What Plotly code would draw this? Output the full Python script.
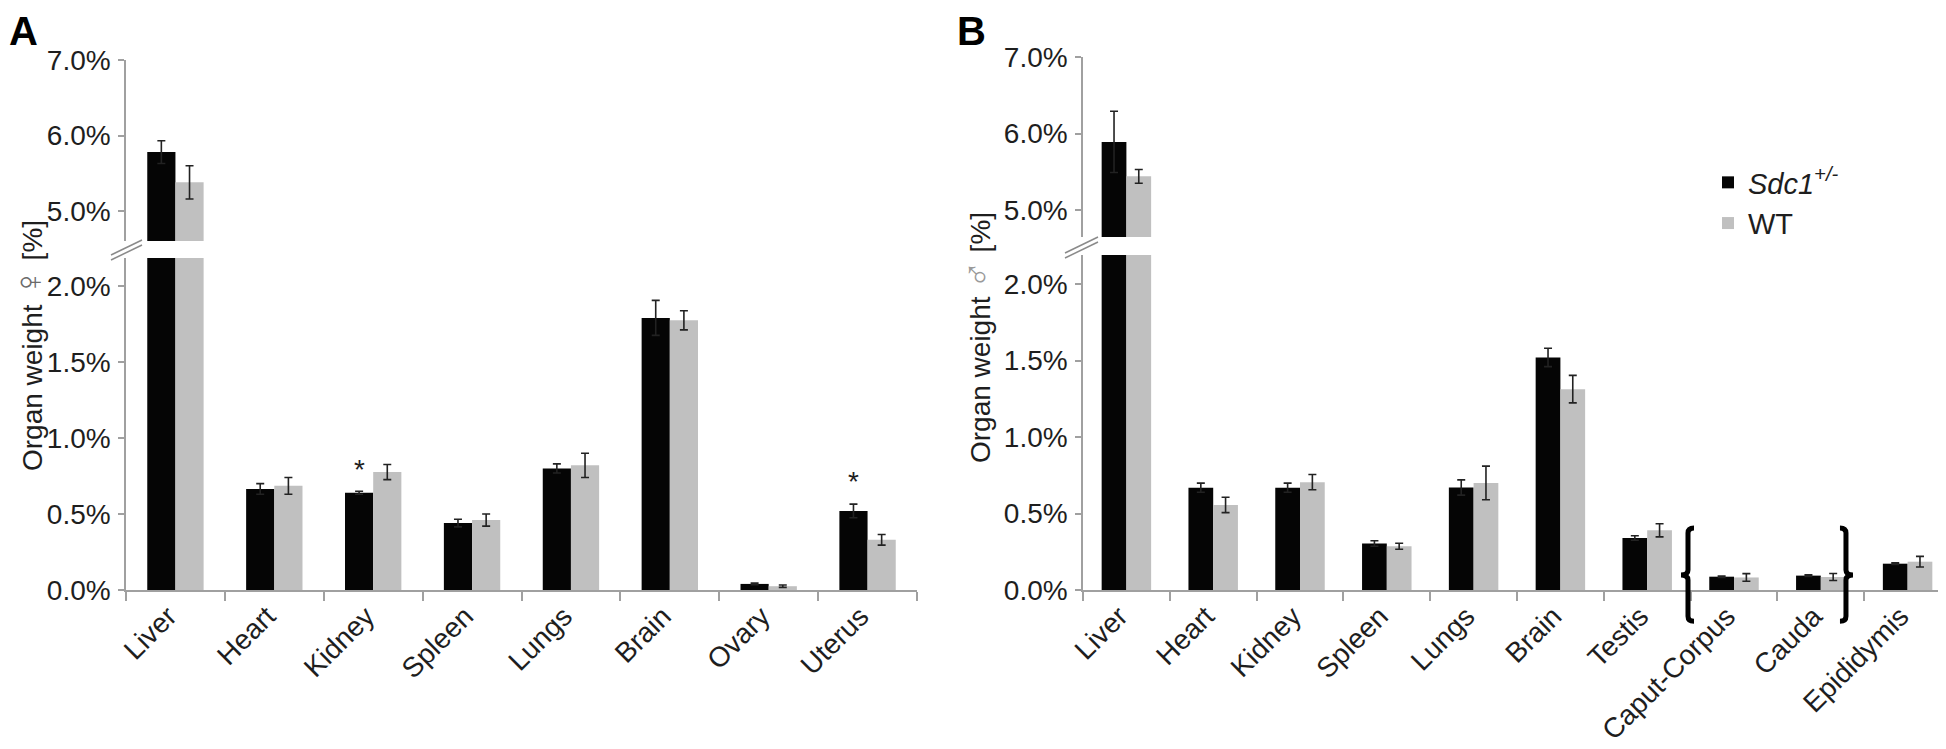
import plotly.graph_objects as go

W, H = 1946, 749

# panel A (female)
organs_f = ["Liver", "Heart", "Kidney", "Spleen", "Lungs", "Brain", "Ovary", "Uterus"]
sdc1_f = [5.78, 0.665, 0.64, 0.44, 0.80, 1.79, 0.04, 0.52]
sdc1_f_err = [0.15, 0.035, 0.01, 0.025, 0.03, 0.115, 0.005, 0.045]
wt_f = [5.38, 0.685, 0.776, 0.46, 0.82, 1.774, 0.025, 0.33]
wt_f_err = [0.22, 0.055, 0.05, 0.04, 0.08, 0.063, 0.008, 0.035]
signif_f = ["Kidney", "Uterus"]

# panel B (male)
organs_m = ["Liver", "Heart", "Kidney", "Spleen", "Lungs", "Brain", "Testis",
            "Caput-Corpus", "Cauda", "Epididymis"]
sdc1_m = [5.89, 0.669, 0.669, 0.304, 0.67, 1.52, 0.34, 0.087, 0.094, 0.172]
sdc1_m_err = [0.40, 0.03, 0.03, 0.018, 0.05, 0.06, 0.015, 0.005, 0.005, 0.005]
wt_m = [5.44, 0.556, 0.705, 0.286, 0.70, 1.313, 0.39, 0.082, 0.085, 0.185]
wt_m_err = [0.09, 0.05, 0.05, 0.02, 0.11, 0.09, 0.043, 0.025, 0.023, 0.035]

ticks_low = [0, 0.5, 1.0, 1.5, 2.0]
ticks_high = [5.0, 6.0, 7.0]

BLACK = "#050505"
GREY = "#c0c0c0"
AXIS = "#a0a0a0"
TXT = "#1e1e1e"
FONT = "Liberation Sans, Arial, sans-serif"


def px_x(p):
    return p / W


def px_y(p):
    return 1 - p / H


fig = go.Figure()


def add_bars(xname, yname, cats, v1, e1, v2, e2, legend):
    err = dict(type="data", thickness=1.6, width=4, color="#222222")
    fig.add_trace(go.Bar(x=cats, y=v1, error_y=dict(array=e1, **err), marker_color=BLACK,
                         marker_line_width=0, name="<i>Sdc1</i><sup><i>+/-</i></sup>",
                         xaxis=xname, yaxis=yname, showlegend=legend))
    fig.add_trace(go.Bar(x=cats, y=v2, error_y=dict(array=e2, **err), marker_color=GREY,
                         marker_line_width=0, name="WT",
                         xaxis=xname, yaxis=yname, showlegend=legend))


add_bars("x", "y", organs_f, sdc1_f, sdc1_f_err, wt_f, wt_f_err, False)
add_bars("x2", "y2", organs_f, sdc1_f, sdc1_f_err, wt_f, wt_f_err, False)
add_bars("x3", "y3", organs_m, sdc1_m, sdc1_m_err, wt_m, wt_m_err, True)
add_bars("x4", "y4", organs_m, sdc1_m, sdc1_m_err, wt_m, wt_m_err, False)

xcommon = dict(type="category", showline=True, linecolor=AXIS, linewidth=1.5,
               ticks="outside", tickson="boundaries", ticklen=9, tickcolor=AXIS,
               tickwidth=1.5, tickangle=-45, showgrid=False, automargin=False,
               ticklabelstandoff=-3, ticklabelshift=-7,
               tickfont=dict(size=28, color=TXT, family=FONT))
ycommon = dict(showline=True, linecolor=AXIS, linewidth=1.5, ticks="outside",
               ticklen=6, tickcolor=AXIS, tickwidth=1.5, showgrid=False,
               zeroline=False, automargin=False, ticklabelstandoff=2,
               tickfont=dict(size=28, color=TXT, family=FONT))


def pct(vals):
    return [f"{v:.1f}%" for v in vals]


dom_a = [px_x(118), px_x(909)]
dom_b = [px_x(1075), px_x(1943)]

fig.update_layout(
    xaxis=dict(domain=dom_a, anchor="y", range=[-0.5, len(organs_f) - 0.5], **xcommon),
    xaxis2=dict(domain=dom_a, anchor="y2", matches="x", visible=False, automargin=False),
    yaxis=dict(domain=[px_y(582), px_y(250)], anchor="x", range=[0, 2.184],
               tickvals=ticks_low, ticktext=pct(ticks_low), **ycommon),
    yaxis2=dict(domain=[px_y(233), px_y(52)], anchor="x2", range=[4.603, 7.0],
                tickvals=ticks_high, ticktext=pct(ticks_high), **ycommon),
    xaxis3=dict(domain=dom_b, anchor="y3", range=[-0.5, len(organs_m) - 0.5], **xcommon),
    xaxis4=dict(domain=dom_b, anchor="y4", matches="x3", visible=False, automargin=False),
    yaxis3=dict(domain=[px_y(582), px_y(247)], anchor="x3", range=[0, 2.19],
                tickvals=ticks_low, ticktext=pct(ticks_low), **ycommon),
    yaxis4=dict(domain=[px_y(229), px_y(49)], anchor="x4", range=[4.647, 7.0],
                tickvals=ticks_high, ticktext=pct(ticks_high), **ycommon),
)

# significance stars above the Sdc1 bars
for org in signif_f:
    i = organs_f.index(org)
    fig.add_annotation(x=i - 0.14, y=sdc1_f[i] + sdc1_f_err[i] + 0.185, xref="x", yref="y",
                       text="*", showarrow=False, yshift=-6,
                       font=dict(size=28, color=TXT, family=FONT))

# axis break marks
for x0, y0, x1, y1 in [(103, 247, 134, 232), (103, 252, 134, 237),
                       (1057, 245, 1090, 229), (1057, 250, 1090, 234)]:
    fig.add_shape(type="line", xref="paper", yref="paper",
                  x0=px_x(x0), y0=px_y(y0), x1=px_x(x1), y1=px_y(y1),
                  line=dict(color="#8a8a8a", width=1.5))


# braces grouping the epididymis parts
def brace(xc, top, mid, bot, side):
    # side=1 -> "{" , side=-1 -> "}"
    n = len(organs_m)
    wx, hy = 868.0, 335.0
    fx = lambda p: (p + 0.5) / n
    fy = lambda v: v / 2.19
    x = fx(xc)
    e = 6 / wx * side
    nb = 7 / wx * side
    r = 5 / hy
    t, m, b = fy(top), fy(mid), fy(bot)
    return (f"M{x + e},{t} Q{x},{t} {x},{t - r} L{x},{m + r} Q{x},{m} {x - nb},{m} "
            f"Q{x},{m} {x},{m - r} L{x},{b + r} Q{x},{b} {x + e},{b}")


for xc, side in [(6.47, 1), (8.29, -1)]:
    fig.add_shape(type="path", xref="x3 domain", yref="y3 domain",
                  path=brace(xc, 0.405, 0.098, -0.205, side),
                  line=dict(color="#000000", width=5), layer="above")

# y titles
for x, y, sym, col in [(21, 338, "♀", "#6a6a6a"), (969, 330, "♂", "#9a9a9a")]:
    fig.add_annotation(x=px_x(x), y=px_y(y), xref="paper", yref="paper", textangle=-90,
                       xanchor="center", yanchor="middle",
                       text=f"Organ weight <span style='color:{col};font-size:38px'>{sym}</span> [%]",
                       showarrow=False, font=dict(size=28, color=TXT, family=FONT))

# panel letters
for lab, x in [("A", 0), ("B", 948)]:
    fig.add_annotation(x=px_x(x), y=px_y(0), xref="paper", yref="paper", text=f"<b>{lab}</b>",
                       xanchor="left", yanchor="top", showarrow=False, borderpad=0,
                       font=dict(size=40, color="#000000", family=FONT))

fig.update_layout(
    width=W, height=H, margin=dict(l=0, r=0, t=0, b=0),
    paper_bgcolor="white", plot_bgcolor="white",
    barmode="group", bargap=0.43, bargroupgap=0,
    font=dict(family=FONT, color=TXT),
    legend=dict(x=px_x(1700), y=px_y(149), xanchor="left", yanchor="top",
                bgcolor="rgba(0,0,0,0)", tracegroupgap=0,
                font=dict(size=29, color=TXT, family=FONT)),
)

fig.write_html("out.html")
